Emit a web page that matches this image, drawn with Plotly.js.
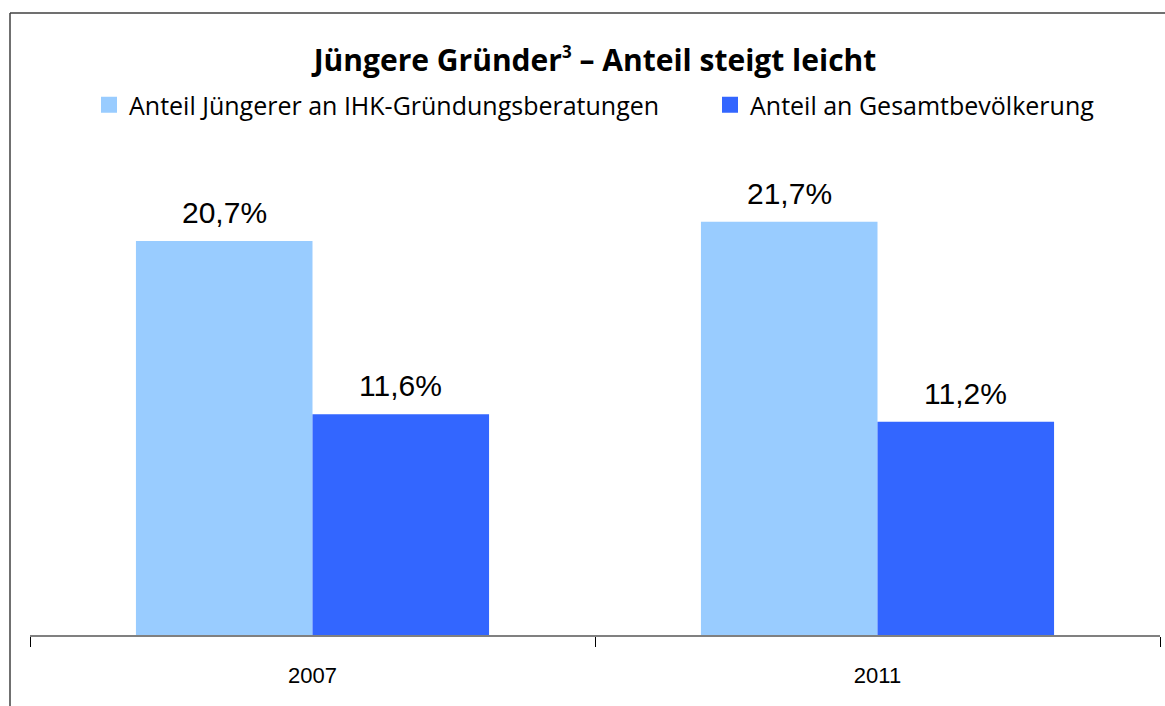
<!DOCTYPE html>
<html>
<head>
<meta charset="utf-8">
<script src="https://cdn.plot.ly/plotly-3.0.1.min.js"></script>
<style>html,body{margin:0;padding:0;background:#fff;}</style>
</head>
<body>
<div id="chart" style="width:1165px;height:706px;"></div>
<script>
const years = ['2007', '2011'];
const seriesNames = ['Anteil Jüngerer an IHK-Gründungsberatungen', 'Anteil an Gesamtbevölkerung'];
const anteilIHK = [20.7, 21.7];
const anteilBevoelkerung = [11.6, 11.2];
const colors = ['#99CCFF', '#3366FF'];

const seriesValues = [anteilIHK, anteilBevoelkerung];
const valueFont = {family: 'Liberation Sans, Arial, sans-serif', size: 30, color: '#000'};
const legendFont = {family: 'Open Sans, sans-serif', size: 25, color: '#000'};

const traces = [
  {type: 'bar', x: years, y: anteilIHK, name: seriesNames[0], marker: {color: colors[0]},
   showlegend: false, hoverinfo: 'none'},
  {type: 'bar', x: years, y: anteilBevoelkerung, name: seriesNames[1], marker: {color: colors[1]},
   showlegend: false, hoverinfo: 'none'},
  {type: 'scatter', mode: 'markers', x: [null], y: [null], name: seriesNames[0], legend: 'legend',
   marker: {symbol: 'square', size: 16, color: colors[0], line: {width: 0}}, showlegend: true},
  {type: 'scatter', mode: 'markers', x: [null], y: [null], name: seriesNames[1], legend: 'legend2',
   marker: {symbol: 'square', size: 16, color: colors[1], line: {width: 0}}, showlegend: true}
];

// value labels built from the data arrays (x = category index)
const barShift = 88;
const annotations = [];
seriesValues.forEach(function (vals, s) {
  vals.forEach(function (v, i) {
    annotations.push({
      x: i, y: v, xref: 'x', yref: 'y',
      text: v.toFixed(1).replace('.', ',') + '%',
      showarrow: false, yanchor: 'bottom', xanchor: 'center',
      xshift: (s === 0 ? -1 : 1) * barShift, yshift: 10,
      font: valueFont
    });
  });
});

const layout = {
  width: 1165, height: 706,
  margin: {l: 30, r: 5, t: 140, b: 71},
  paper_bgcolor: '#fff', plot_bgcolor: '#fff',
  separators: ',.',
  barmode: 'group', bargap: 0.375, bargroupgap: 0,
  title: {
    text: 'Jüngere Gründer<sup><span style="font-size:17px">3</span></sup> – Anteil steigt leicht',
    font: {family: 'Open Sans, sans-serif', size: 30, color: '#000', weight: 'bold'},
    x: 0.5, xref: 'paper', xanchor: 'center',
    y: 1 - 60/706, yref: 'container', yanchor: 'middle'
  },
  legend: {
    orientation: 'h', xref: 'container', yref: 'container',
    x: 89/1165, y: 1 - 105/706, xanchor: 'left', yanchor: 'middle',
    font: legendFont, itemsizing: 'trace', bgcolor: 'rgba(0,0,0,0)'
  },
  legend2: {
    orientation: 'h', xref: 'container', yref: 'container',
    x: 710/1165, y: 1 - 105/706, xanchor: 'left', yanchor: 'middle',
    font: legendFont, itemsizing: 'trace', bgcolor: 'rgba(0,0,0,0)'
  },
  xaxis: {
    type: 'category', range: [-0.5, 1.5], autorange: false,
    showline: true, linecolor: '#808080', linewidth: 2,
    ticks: 'outside', tickson: 'boundaries', ticklen: 10, tickwidth: 1, tickcolor: '#000',
    tickfont: {family: 'Liberation Sans, Arial, sans-serif', size: 22, color: '#000'},
    ticklabelstandoff: 20, showgrid: false, zeroline: false, fixedrange: true
  },
  yaxis: {
    range: [0, 26], autorange: false, visible: false, showgrid: false, zeroline: false, fixedrange: true
  },
  annotations: annotations,
  shapes: [
    {type: 'line', xref: 'paper', yref: 'paper', x0: (10-30)/1130, x1: (1165-30)/1130,
     y0: (635-13)/495, y1: (635-13)/495, line: {color: '#404040', width: 1.5}},
    {type: 'line', xref: 'paper', yref: 'paper', x0: (10-30)/1130, x1: (10-30)/1130,
     y0: (635-13)/495, y1: (635-706)/495, line: {color: '#404040', width: 1.5}}
  ]
};

Plotly.newPlot('chart', traces, layout, {displayModeBar: false, staticPlot: true});
</script>
</body>
</html>
